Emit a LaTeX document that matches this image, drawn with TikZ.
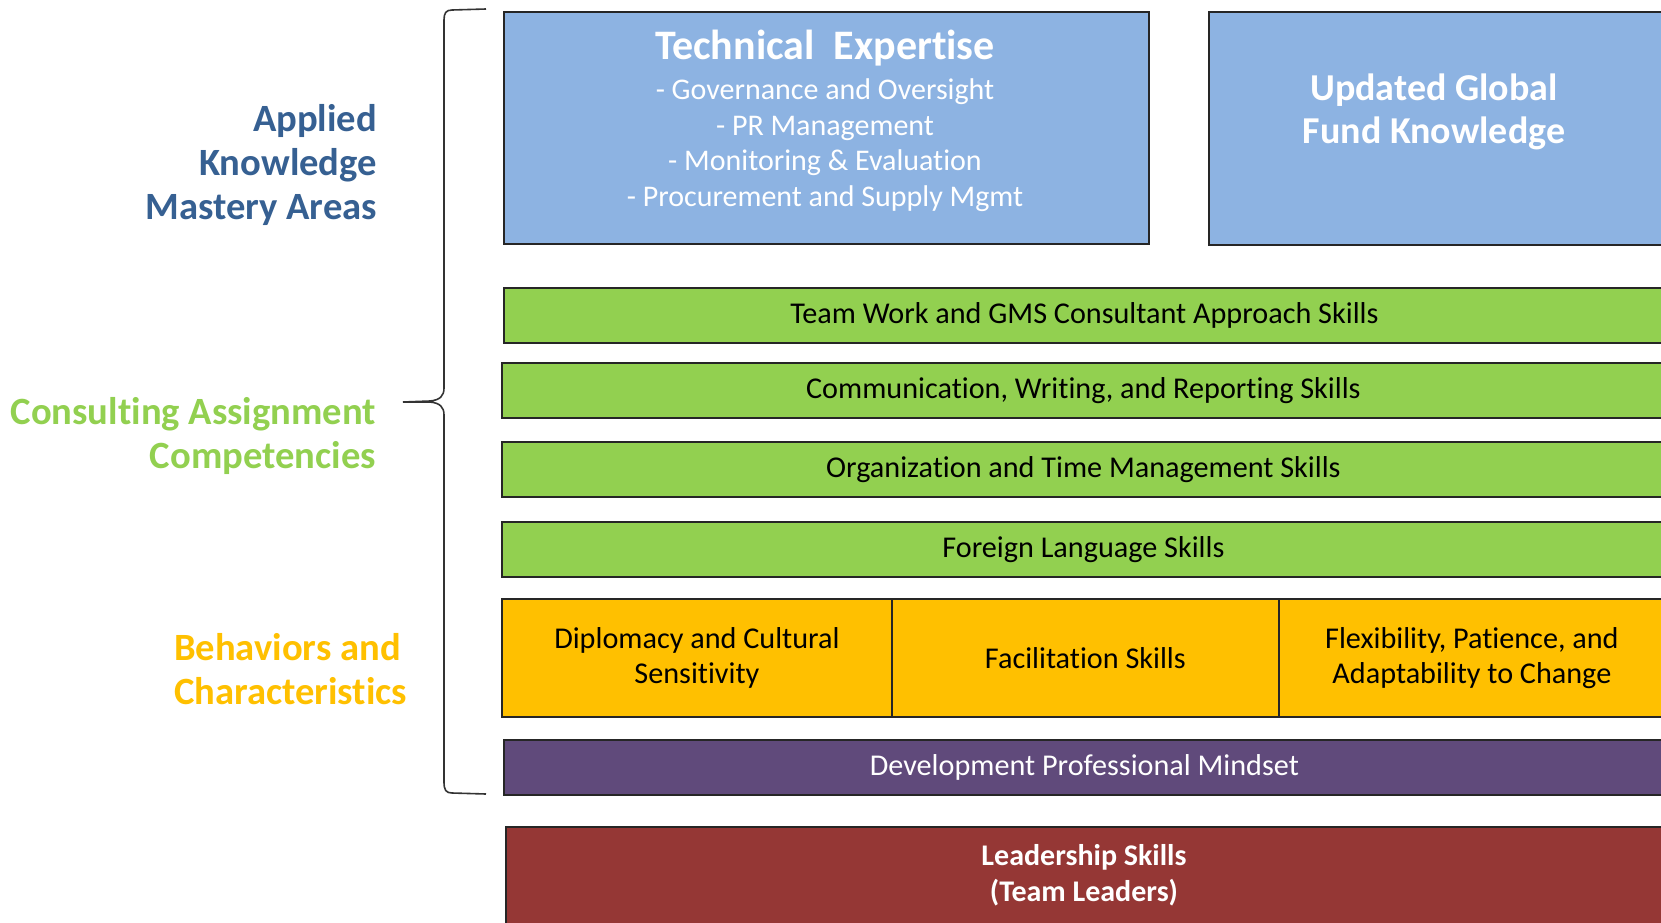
\documentclass[tikz,border=0pt]{standalone}
\usepackage{fontspec}
\setmainfont[Ligatures=NoCommon]{Carlito}
\definecolor{knowblue}{HTML}{8DB3E2}
\definecolor{compgreen}{HTML}{92D050}
\definecolor{behorange}{HTML}{FFC000}
\definecolor{mindpurple}{HTML}{604A7B}
\definecolor{leadred}{HTML}{953735}
\definecolor{labelblue}{HTML}{366092}
\begin{document}
\begin{tikzpicture}
	[x=0.5pt, y=-0.5pt,
	box/.style = {draw=black!85, line width=0.9pt, inner sep=0pt, align=center,
		anchor=north west, font=\fontsize{15.1}{17.5}\selectfont},
	knowbox/.style = {box, fill=knowblue, minimum height=116pt},
	compbox/.style = {box, fill=compgreen, minimum width=581.5pt, minimum height=27.5pt},
	behbox/.style = {box, fill=behorange, minimum height=59pt},
	mindbox/.style = {box, fill=mindpurple, text=white},
	leadbox/.style = {box, fill=leadred},
	whitetxt/.style = {text=white, align=center},
	sidelabel/.style = {font=\fontsize{19.3}{22.2}\selectfont\bfseries}]
\useasboundingbox (0,0) rectangle (1661,922);
\clip (0,0) rectangle (1661,922);
% side labels
\node[sidelabel, text=labelblue, align=right, anchor=east] (applied) at (384,165)
	{Applied\\Knowledge\\Mastery Areas};
\node[sidelabel, text=compgreen, align=right, anchor=east] (consult) at (383,436)
	{Consulting Assignment\\Competencies};
\node[sidelabel, text=behorange, align=left, anchor=west] (behave) at (167,669)
	{Behaviors and\\Characteristics};
% knowledge boxes
\node[knowbox, minimum width=322.5pt] (tech) at (503,11) {};
\node[whitetxt, font=\fontsize{21}{24}\selectfont\bfseries] (techtitle) at (825,48)
	{Technical~ Expertise};
\node[whitetxt, font=\fontsize{15}{17.75}\selectfont] (techlist) at (825,145)
	{- Governance and Oversight\\- PR Management\\- Monitoring \& Evaluation\\- Procurement and Supply Mgmt};
\node[knowbox, minimum width=228pt, minimum height=116.5pt] (fund) at (1208,11) {};
\node[whitetxt, font=\fontsize{19}{21.8}\selectfont\bfseries] (fundtxt) at (1434,112)
	{Updated Global\\Fund Knowledge};
% competencies
\node[compbox, minimum width=580.5pt] (team) at (503,287) {Team Work and GMS Consultant Approach Skills};
\node[compbox] (comm) at (501,362) {Communication, Writing, and Reporting Skills};
\node[compbox] (org) at (501,441) {Organization and Time Management Skills};
\node[compbox] (lang) at (501,521) {Foreign Language Skills};
% behaviors
\node[behbox, minimum width=195pt] (diplo) at (501,598) {Diplomacy and Cultural\\Sensitivity};
\node[behbox, minimum width=193.5pt] (facil) at (891,598) {Facilitation Skills};
\node[behbox, minimum width=193pt] (flex) at (1278,598) {Flexibility, Patience, and\\Adaptability to Change};
\node[mindbox, minimum width=580.5pt, minimum height=27.5pt] (mind) at (503,739) {Development Professional Mindset};
% leadership
\node[leadbox, minimum width=579.5pt, minimum height=52pt] (lead) at (505,826) {};
\node[whitetxt, font=\fontsize{15}{18.2}\selectfont\bfseries] (leadtxt) at (1084,875)
	{Leadership Skills\\(Team Leaders)};
% brace
\draw[black!80, line width=0.8pt] (486,9) -- (452,10)
	.. controls (446,10) and (444,13) .. (444,20) -- (444,388)
	.. controls (444,396) and (440,400) .. (430,401) -- (403,402)
	-- (430,402) .. controls (440,403) and (444,407) .. (444,415)
	-- (444,782) .. controls (444,790) and (446,793) .. (452,793) -- (486,794);
\end{tikzpicture}
\end{document}
